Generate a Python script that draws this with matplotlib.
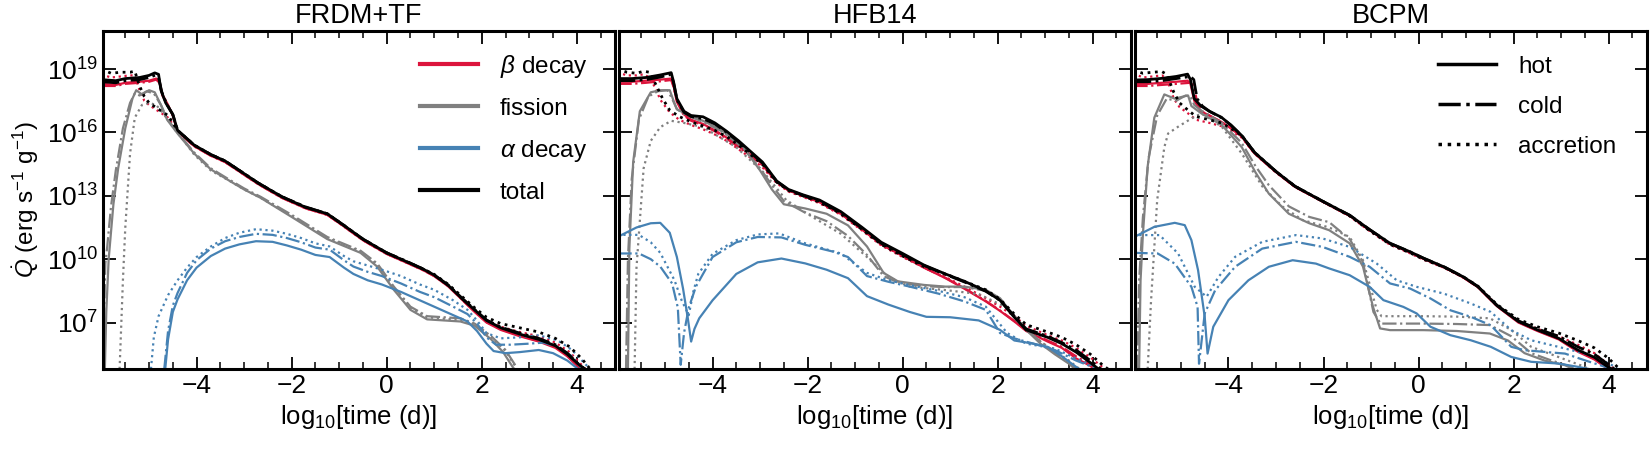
import numpy as np
import matplotlib
matplotlib.use("Agg")
import matplotlib.pyplot as plt
from matplotlib.ticker import MultipleLocator, NullLocator
from matplotlib.lines import Line2D

plt.rcParams['font.family'] = ['Liberation Sans', 'DejaVu Sans']
plt.rcParams['mathtext.fontset'] = 'custom'
plt.rcParams['mathtext.rm'] = 'Liberation Sans'
plt.rcParams['mathtext.it'] = 'Liberation Sans:italic'
plt.rcParams['mathtext.bf'] = 'Liberation Sans:bold'

# curves: (log10 time [d], log10 Qdot [erg/s/g])

# ---- FRDM+TF ----
frdm_beta_hot = [(-6.0,18.3),(-5.7,18.25),(-5.5,18.35),(-5.2,18.4),(-5.0,18.45),(-4.85,18.55),(-4.78,18.4),(-4.72,17.8),(-4.6,17.3),(-4.5,16.8),(-4.4,16.05),(-4.05,15.35),(-3.7,14.9),(-3.4,14.6),(-3.0,14.0),(-2.7,13.55),(-2.2,12.9),(-1.7,12.4),(-1.25,12.1),(-0.9,11.55),(-0.5,10.9),(0.0,10.25),(0.4,9.85),(0.75,9.5),(1.0,9.2),(1.3,8.7),(1.6,8.05),(1.85,7.5),(2.1,7.0),(2.4,6.65),(2.8,6.35),(3.2,6.1),(3.55,5.8),(3.8,5.4),(4.05,4.85),(4.15,4.75)]
frdm_beta_cold = [(-6.0,18.2),(-5.7,18.2),(-5.5,18.3),(-5.2,18.35),(-5.0,18.4),(-4.85,18.5),(-4.78,18.35),(-4.72,17.75),(-4.6,17.25),(-4.5,16.8),(-4.4,16.05),(-4.05,15.35),(-3.7,14.9),(-3.4,14.6),(-3.0,14.0),(-2.7,13.55),(-2.2,12.9),(-1.7,12.42),(-1.25,12.1),(-0.9,11.55),(-0.5,10.9),(0.0,10.25),(0.4,9.87),(0.75,9.5),(1.0,9.2),(1.3,8.72),(1.6,8.05),(1.85,7.52),(2.1,7.02),(2.4,6.68),(2.8,6.38),(3.2,6.12),(3.55,5.85),(3.8,5.45),(4.05,4.9),(4.15,4.75)]
frdm_beta_acc = [(-6.0,18.75),(-5.8,18.6),(-5.6,18.65),(-5.4,18.7),(-5.3,18.7),(-5.2,18.0),(-5.1,17.5),(-5.0,17.3),(-4.8,17.0),(-4.6,16.7),(-4.4,16.05),(-4.05,15.35),(-3.7,14.9),(-3.4,14.6),(-3.0,14.0),(-2.7,13.55),(-2.2,12.9),(-1.7,12.4),(-1.25,12.1),(-0.9,11.55),(-0.5,10.9),(0.0,10.25),(0.4,9.85),(0.75,9.5),(1.0,9.22),(1.3,8.75),(1.6,8.12),(1.85,7.6),(2.1,7.1),(2.4,6.8),(2.8,6.55),(3.2,6.35),(3.55,6.05),(3.85,5.6),(4.1,5.0),(4.2,4.75)]
frdm_fis_hot = [(-5.93,4.8),(-5.9,7.5),(-5.85,10.0),(-5.75,12.6),(-5.65,14.3),(-5.5,16.2),(-5.35,17.6),(-5.27,18.0),(-5.15,17.8),(-5.0,18.0),(-4.88,17.9),(-4.75,17.3),(-4.62,16.6),(-4.4,15.95),(-4.05,15.0),(-3.7,14.25),(-3.3,13.7),(-3.0,13.3),(-2.65,12.9),(-2.0,12.0),(-1.25,10.95),(-0.55,10.3),(-0.2,9.65),(0.15,8.55),(0.5,7.6),(0.85,7.15),(1.2,7.1),(1.55,7.05),(1.85,6.85),(2.2,6.2),(2.45,5.6),(2.65,4.9),(2.7,4.75)]
frdm_fis_cold = [(-5.97,4.8),(-5.95,7.0),(-5.92,9.8),(-5.88,10.6),(-5.8,12.5),(-5.7,14.2),(-5.55,16.2),(-5.4,17.4),(-5.3,17.85),(-5.2,17.75),(-5.05,17.95),(-4.9,17.85),(-4.75,17.3),(-4.62,16.65),(-4.4,16.0),(-4.05,15.05),(-3.7,14.3),(-3.3,13.75),(-3.0,13.35),(-2.65,12.95),(-2.0,12.1),(-1.25,11.05),(-0.55,10.4),(-0.2,9.8),(0.15,8.7),(0.5,7.75),(0.85,7.3),(1.2,7.25),(1.55,7.2),(1.85,6.95),(2.2,6.35),(2.5,5.7),(2.7,5.0),(2.75,4.75)]
frdm_fis_acc = [(-5.62,4.8),(-5.55,9.0),(-5.5,11.5),(-5.4,15.0),(-5.3,16.7),(-5.15,17.3),(-5.0,17.4),(-4.85,17.3),(-4.7,16.9),(-4.5,16.25),(-4.3,15.7),(-4.05,14.95),(-3.7,14.2),(-3.3,13.7),(-3.0,13.3),(-2.65,12.9),(-2.0,12.05),(-1.25,11.0),(-0.55,10.35),(-0.2,9.72),(0.15,8.65),(0.5,7.7),(0.85,7.25),(1.2,7.18),(1.55,7.12),(1.85,6.9),(2.2,6.3),(2.5,5.65),(2.7,4.95),(2.75,4.75)]
frdm_alpha_hot = [(-4.66,4.8),(-4.6,6.2),(-4.5,7.5),(-4.4,8.1),(-4.2,9.0),(-4.0,9.6),(-3.7,10.15),(-3.4,10.5),(-3.1,10.7),(-2.75,10.85),(-2.4,10.82),(-2.1,10.65),(-1.8,10.45),(-1.5,10.2),(-1.2,10.1),(-0.9,9.6),(-0.7,9.3),(-0.4,9.0),(-0.1,8.8),(0.3,8.45),(0.7,8.05),(1.0,7.75),(1.4,7.35),(1.7,7.05),(1.9,6.6),(2.1,6.0),(2.25,5.65),(2.5,5.55),(2.8,5.6),(3.2,5.7),(3.5,5.55),(3.8,5.2),(4.0,4.85),(4.05,4.75)]
frdm_alpha_cold = [(-4.68,4.8),(-4.6,6.6),(-4.5,7.8),(-4.4,8.4),(-4.2,9.35),(-4.0,9.95),(-3.7,10.5),(-3.4,10.85),(-3.1,11.05),(-2.75,11.2),(-2.4,11.15),(-2.1,11.0),(-1.8,10.8),(-1.5,10.55),(-1.2,10.45),(-0.9,9.95),(-0.7,9.65),(-0.4,9.4),(-0.1,9.2),(0.3,8.85),(0.7,8.45),(1.0,8.2),(1.4,7.75),(1.7,7.4),(1.9,6.95),(2.1,6.3),(2.3,5.95),(2.6,5.95),(3.0,6.0),(3.3,6.05),(3.6,5.85),(3.9,5.4),(4.1,4.85),(4.15,4.75)]
frdm_alpha_acc = [(-4.96,4.8),(-4.9,6.3),(-4.8,7.3),(-4.6,8.3),(-4.4,9.0),(-4.2,9.6),(-4.0,10.1),(-3.7,10.6),(-3.4,11.0),(-3.1,11.25),(-2.75,11.42),(-2.4,11.35),(-2.1,11.2),(-1.8,11.0),(-1.5,10.75),(-1.2,10.6),(-0.9,10.15),(-0.7,9.9),(-0.4,9.7),(-0.1,9.5),(0.3,9.2),(0.7,8.8),(1.0,8.55),(1.4,8.05),(1.7,7.6),(1.9,7.1),(2.1,6.5),(2.4,6.25),(2.8,6.3),(3.2,6.4),(3.6,6.15),(3.9,5.7),(4.15,5.1),(4.3,4.75)]
frdm_tot_hot = [(-6.0,18.5),(-5.7,18.45),(-5.5,18.55),(-5.2,18.6),(-5.0,18.7),(-4.88,18.82),(-4.8,18.75),(-4.75,18.0),(-4.65,17.4),(-4.5,16.85),(-4.4,16.1),(-4.05,15.4),(-3.7,14.95),(-3.4,14.65),(-3.0,14.05),(-2.7,13.6),(-2.2,12.95),(-1.7,12.45),(-1.25,12.15),(-0.9,11.6),(-0.5,10.95),(0.0,10.3),(0.4,9.9),(0.75,9.55),(1.0,9.25),(1.3,8.75),(1.6,8.1),(1.85,7.6),(2.1,7.1),(2.4,6.75),(2.8,6.45),(3.2,6.2),(3.55,5.9),(3.8,5.5),(4.05,5.0),(4.2,4.75)]
frdm_tot_cold = [(-6.0,18.4),(-5.7,18.35),(-5.5,18.45),(-5.2,18.5),(-5.0,18.6),(-4.86,18.72),(-4.8,18.6),(-4.73,17.9),(-4.63,17.35),(-4.5,16.85),(-4.4,16.1),(-4.05,15.4),(-3.7,14.95),(-3.4,14.65),(-3.0,14.05),(-2.7,13.6),(-2.2,12.95),(-1.7,12.47),(-1.25,12.15),(-0.9,11.6),(-0.5,10.95),(0.0,10.3),(0.4,9.92),(0.75,9.55),(1.0,9.25),(1.3,8.77),(1.6,8.12),(1.85,7.62),(2.1,7.12),(2.4,6.78),(2.8,6.5),(3.2,6.25),(3.55,5.95),(3.8,5.55),(4.05,5.0),(4.2,4.75)]
frdm_tot_acc = [(-6.0,19.0),(-5.8,18.8),(-5.6,18.85),(-5.4,18.85),(-5.3,18.9),(-5.2,18.2),(-5.1,17.7),(-5.0,17.4),(-4.8,17.1),(-4.6,16.8),(-4.4,16.1),(-4.05,15.4),(-3.7,14.95),(-3.4,14.65),(-3.0,14.05),(-2.7,13.6),(-2.2,12.95),(-1.7,12.45),(-1.25,12.15),(-0.9,11.6),(-0.5,10.95),(0.0,10.3),(0.4,9.9),(0.75,9.55),(1.0,9.28),(1.3,8.8),(1.6,8.2),(1.85,7.7),(2.1,7.25),(2.4,6.95),(2.8,6.75),(3.2,6.55),(3.55,6.25),(3.85,5.85),(4.1,5.3),(4.3,4.75)]

# ---- HFB14 ----
hfb_beta_hot = [(-6.0,18.4),(-5.7,18.4),(-5.4,18.45),(-5.1,18.5),(-4.87,18.55),(-4.82,18.2),(-4.75,17.5),(-4.6,16.85),(-4.45,16.6),(-4.2,16.4),(-3.95,16.1),(-3.7,15.75),(-3.45,15.35),(-3.2,14.95),(-2.95,14.5),(-2.65,13.65),(-2.4,13.25),(-2.1,13.0),(-1.75,12.7),(-1.3,12.15),(-0.85,11.4),(-0.45,10.7),(0.0,10.15),(0.45,9.6),(0.9,9.1),(1.3,8.6),(1.75,8.0),(2.05,7.55),(2.35,7.05),(2.6,6.6),(3.05,6.1),(3.35,5.8),(3.65,5.3),(3.95,4.95),(4.05,4.75)]
hfb_beta_cold = [(-6.0,18.3),(-5.7,18.3),(-5.4,18.35),(-5.1,18.42),(-4.87,18.48),(-4.82,18.15),(-4.75,17.45),(-4.6,16.8),(-4.45,16.55),(-4.2,16.35),(-3.95,16.05),(-3.7,15.7),(-3.45,15.3),(-3.2,14.9),(-2.95,14.45),(-2.65,13.65),(-2.4,13.25),(-2.1,13.0),(-1.75,12.7),(-1.3,12.15),(-0.85,11.4),(-0.45,10.7),(0.0,10.15),(0.45,9.6),(0.9,9.12),(1.3,8.62),(1.75,8.02),(2.05,7.57),(2.35,7.07),(2.6,6.62),(3.05,6.15),(3.35,5.85),(3.65,5.4),(3.95,5.0),(4.1,4.75)]
hfb_beta_acc = [(-6.0,18.85),(-5.8,18.7),(-5.6,18.7),(-5.45,18.75),(-5.33,18.6),(-5.2,18.1),(-5.1,17.55),(-4.9,16.95),(-4.7,16.6),(-4.45,16.35),(-4.2,16.15),(-3.95,15.9),(-3.7,15.6),(-3.45,15.2),(-3.2,14.8),(-2.95,14.35),(-2.65,13.6),(-2.4,13.2),(-2.1,12.95),(-1.75,12.65),(-1.3,12.1),(-0.85,11.35),(-0.45,10.65),(0.0,10.1),(0.45,9.6),(0.9,9.15),(1.3,8.7),(1.75,8.15),(2.05,7.75),(2.35,7.3),(2.6,6.85),(3.05,6.4),(3.35,6.15),(3.65,5.8),(3.95,5.35),(4.2,4.9),(4.3,4.75)]
hfb_fis_hot = [(-5.78,4.8),(-5.75,10.5),(-5.67,14.6),(-5.53,17.0),(-5.3,17.9),(-5.1,18.0),(-4.9,18.0),(-4.82,17.5),(-4.75,17.1),(-4.58,16.9),(-4.2,16.55),(-3.8,16.1),(-3.35,15.3),(-3.0,14.2),(-2.75,13.3),(-2.5,12.6),(-2.05,12.4),(-1.6,12.15),(-1.15,11.6),(-0.75,10.6),(-0.4,9.35),(-0.1,8.95),(0.45,8.78),(0.9,8.7),(1.3,8.7),(1.75,8.55),(2.05,8.15),(2.35,7.3),(2.6,6.65),(2.9,6.0),(3.2,5.5),(3.5,5.05),(3.65,4.75)]
hfb_fis_cold = [(-5.82,4.8),(-5.78,10.0),(-5.7,13.8),(-5.55,16.6),(-5.35,17.7),(-5.15,17.95),(-4.95,18.0),(-4.85,17.6),(-4.75,17.1),(-4.58,16.85),(-4.2,16.5),(-3.8,16.05),(-3.35,15.25),(-3.0,14.3),(-2.75,13.5),(-2.5,12.75),(-2.05,12.2),(-1.6,11.8),(-1.15,11.1),(-0.75,10.2),(-0.4,9.2),(-0.1,8.9),(0.45,8.72),(0.9,8.68),(1.3,8.68),(1.75,8.5),(2.05,8.1),(2.35,7.3),(2.6,6.7),(2.9,6.1),(3.2,5.6),(3.5,5.1),(3.7,4.75)]
hfb_fis_acc = [(-5.64,4.8),(-5.6,9.6),(-5.45,14.3),(-5.3,15.6),(-5.1,16.25),(-4.87,16.55),(-4.6,16.45),(-4.2,16.25),(-3.5,15.3),(-2.9,14.05),(-2.45,12.8),(-1.9,12.0),(-1.3,11.2),(-0.75,10.1),(-0.3,9.15),(0.15,8.7),(0.85,8.55),(1.6,8.35),(2.2,7.7),(2.6,6.65),(3.05,5.85),(3.5,5.2),(3.75,4.75)]
hfb_alpha_hot = [(-6.0,11.05),(-5.6,11.5),(-5.3,11.7),(-5.1,11.72),(-4.9,11.25),(-4.75,10.1),(-4.62,8.6),(-4.52,7.2),(-4.45,6.1),(-4.38,6.7),(-4.28,7.2),(-4.0,8.05),(-3.5,9.3),(-3.05,9.85),(-2.55,10.03),(-2.05,9.8),(-1.6,9.5),(-1.15,9.1),(-0.75,8.25),(-0.3,7.85),(0.15,7.5),(0.5,7.27),(1.0,7.25),(1.6,7.1),(2.05,6.65),(2.35,6.15),(2.75,6.0),(3.05,5.85),(3.35,5.4),(3.65,4.9),(3.75,4.75)]
hfb_alpha_cold = [(-6.0,10.27),(-5.55,10.27),(-5.3,10.0),(-5.1,9.65),(-4.85,8.85),(-4.73,7.7),(-4.67,5.0),(-4.6,6.5),(-4.5,7.7),(-4.35,8.7),(-4.0,10.1),(-3.5,10.8),(-3.05,11.05),(-2.55,11.03),(-2.05,10.68),(-1.45,10.35),(-1.15,10.1),(-0.75,9.2),(-0.3,8.93),(0.15,8.7),(0.75,8.37),(1.3,8.0),(1.75,7.6),(2.05,6.5),(2.35,6.25),(2.75,6.0),(3.2,5.7),(3.65,5.2),(4.05,4.85),(4.1,4.75)]
hfb_alpha_acc = [(-6.0,11.15),(-5.55,11.15),(-5.3,10.8),(-5.1,10.3),(-4.8,9.0),(-4.65,8.05),(-4.5,7.35),(-4.4,8.5),(-4.3,9.3),(-4.0,10.25),(-3.5,10.9),(-3.05,11.17),(-2.6,11.22),(-2.05,10.75),(-1.3,10.27),(-0.75,9.35),(-0.3,9.0),(0.15,8.77),(0.75,8.5),(1.3,8.2),(1.75,7.75),(2.2,6.5),(2.6,6.0),(3.2,5.77),(3.65,5.3),(4.05,4.9),(4.15,4.75)]
hfb_tot_hot = [(-6.0,18.55),(-5.7,18.55),(-5.4,18.6),(-5.1,18.72),(-4.87,18.83),(-4.82,18.4),(-4.75,17.6),(-4.6,17.0),(-4.45,16.8),(-4.2,16.74),(-3.95,16.45),(-3.7,16.05),(-3.45,15.6),(-3.2,15.1),(-2.95,14.6),(-2.65,13.7),(-2.4,13.3),(-2.1,13.05),(-1.75,12.8),(-1.3,12.25),(-0.85,11.5),(-0.45,10.8),(0.0,10.27),(0.45,9.72),(0.9,9.3),(1.3,8.95),(1.75,8.5),(2.05,8.05),(2.35,7.25),(2.6,6.65),(3.05,6.3),(3.35,6.0),(3.65,5.6),(3.95,5.1),(4.15,4.75)]
hfb_tot_cold = [(-6.0,18.45),(-5.7,18.45),(-5.4,18.5),(-5.1,18.62),(-4.87,18.75),(-4.82,18.35),(-4.75,17.55),(-4.6,16.95),(-4.45,16.75),(-4.2,16.65),(-3.95,16.4),(-3.7,16.0),(-3.45,15.55),(-3.2,15.05),(-2.95,14.55),(-2.65,13.68),(-2.4,13.28),(-2.1,13.02),(-1.75,12.75),(-1.3,12.2),(-0.85,11.45),(-0.45,10.75),(0.0,10.22),(0.45,9.7),(0.9,9.28),(1.3,8.92),(1.75,8.48),(2.05,8.05),(2.35,7.3),(2.6,6.7),(3.05,6.35),(3.35,6.05),(3.65,5.7),(3.95,5.2),(4.2,4.75)]
hfb_tot_acc = [(-6.0,19.0),(-5.8,18.85),(-5.6,18.8),(-5.45,18.9),(-5.33,18.85),(-5.2,18.3),(-5.05,17.6),(-4.9,17.05),(-4.7,16.75),(-4.45,16.5),(-4.2,16.3),(-3.95,16.1),(-3.7,15.8),(-3.45,15.4),(-3.2,14.95),(-2.95,14.5),(-2.65,13.65),(-2.4,13.25),(-2.1,13.0),(-1.75,12.7),(-1.3,12.15),(-0.85,11.4),(-0.45,10.7),(0.0,10.15),(0.45,9.65),(0.9,9.3),(1.3,8.95),(1.75,8.55),(2.05,8.1),(2.35,7.4),(2.6,6.9),(3.05,6.55),(3.35,6.3),(3.65,5.95),(3.95,5.5),(4.2,5.0),(4.35,4.75)]

# ---- BCPM ----
bcpm_beta_hot = [(-6.0,18.3),(-5.7,18.3),(-5.4,18.35),(-5.1,18.4),(-4.86,18.45),(-4.8,18.3),(-4.72,17.5),(-4.58,17.0),(-4.4,16.8),(-4.15,16.5),(-3.95,16.2),(-3.72,15.8),(-3.45,15.0),(-3.0,14.12),(-2.6,13.42),(-2.0,12.7),(-1.45,12.05),(-1.03,11.37),(-0.6,10.72),(-0.18,10.32),(0.1,10.02),(0.55,9.6),(0.95,9.12),(1.25,8.67),(1.65,7.77),(2.1,7.0),(2.5,6.6),(2.95,6.2),(3.35,5.62),(3.7,5.25),(3.95,4.85),(4.0,4.75)]
bcpm_beta_cold = [(-6.0,18.2),(-5.7,18.2),(-5.4,18.25),(-5.1,18.3),(-4.8,18.35),(-4.73,18.2),(-4.66,17.45),(-4.55,17.0),(-4.4,16.8),(-4.15,16.5),(-3.95,16.2),(-3.72,15.8),(-3.45,15.0),(-3.0,14.12),(-2.6,13.42),(-2.0,12.7),(-1.45,12.05),(-1.03,11.37),(-0.6,10.72),(-0.18,10.32),(0.1,10.02),(0.55,9.6),(0.95,9.12),(1.25,8.67),(1.65,7.78),(2.1,7.02),(2.5,6.62),(2.95,6.22),(3.35,5.65),(3.7,5.28),(3.95,4.88),(4.02,4.75)]
bcpm_beta_acc = [(-6.0,18.8),(-5.8,18.6),(-5.6,18.65),(-5.4,18.7),(-5.3,18.55),(-5.15,17.6),(-5.03,17.2),(-4.85,16.9),(-4.68,16.6),(-4.4,16.45),(-4.15,16.3),(-3.95,16.1),(-3.72,15.75),(-3.45,15.0),(-3.0,14.1),(-2.6,13.42),(-2.0,12.7),(-1.45,12.03),(-1.03,11.33),(-0.6,10.68),(-0.18,10.28),(0.1,9.98),(0.55,9.58),(0.95,9.12),(1.25,8.7),(1.65,7.82),(2.1,7.05),(2.5,6.7),(2.95,6.35),(3.35,5.95),(3.7,5.55),(4.0,5.0),(4.15,4.75)]
bcpm_fis_hot = [(-5.88,4.8),(-5.85,9.0),(-5.8,11.2),(-5.7,14.4),(-5.56,16.7),(-5.35,17.8),(-5.13,17.6),(-4.95,17.7),(-4.85,17.75),(-4.78,17.25),(-4.57,16.9),(-4.14,16.35),(-3.72,15.3),(-3.43,14.1),(-3.15,13.1),(-2.73,12.15),(-2.3,11.7),(-1.88,11.37),(-1.45,10.75),(-1.17,9.65),(-0.96,7.75),(-0.81,6.72),(-0.6,6.64),(0.1,6.64),(0.8,6.6),(1.5,6.48),(1.88,6.15),(2.23,5.55),(2.65,5.2),(3.08,4.98),(3.3,4.75)]
bcpm_fis_cold = [(-5.92,4.8),(-5.88,9.0),(-5.8,12.0),(-5.68,14.8),(-5.5,16.8),(-5.3,17.6),(-5.1,17.5),(-4.9,17.75),(-4.8,17.7),(-4.72,17.3),(-4.55,17.0),(-4.14,16.45),(-3.72,15.5),(-3.43,14.4),(-3.15,13.5),(-2.73,12.5),(-2.3,12.0),(-1.88,11.75),(-1.45,10.95),(-1.17,9.85),(-0.95,7.5),(-0.8,6.95),(0.1,6.95),(0.8,6.93),(1.5,6.88),(1.95,6.35),(2.37,5.55),(2.8,5.2),(3.36,4.8),(3.4,4.75)]
bcpm_fis_acc = [(-5.7,4.8),(-5.63,8.0),(-5.5,12.8),(-5.35,15.3),(-5.27,15.95),(-5.06,16.27),(-4.78,16.66),(-4.57,16.9),(-4.14,16.27),(-3.72,15.0),(-3.29,13.45),(-2.87,12.5),(-2.44,11.85),(-1.88,11.5),(-1.45,11.05),(-1.17,9.95),(-0.88,7.6),(-0.78,7.3),(0.1,7.3),(0.8,7.28),(1.5,7.2),(1.95,6.65),(2.37,5.85),(2.94,5.37),(3.5,4.9),(3.6,4.75)]
bcpm_alpha_hot = [(-6.0,11.03),(-5.56,11.53),(-5.13,11.72),(-4.92,11.61),(-4.78,10.9),(-4.64,9.48),(-4.5,7.27),(-4.44,5.53),(-4.32,6.8),(-4.0,8.06),(-3.58,9.0),(-3.15,9.64),(-2.65,9.95),(-2.16,9.79),(-1.88,9.56),(-1.45,9.24),(-1.03,8.69),(-0.74,8.06),(-0.32,7.74),(-0.04,7.43),(0.25,6.8),(0.67,6.4),(1.1,6.16),(1.52,5.85),(1.95,5.37),(2.37,5.14),(2.94,5.06),(3.36,4.9),(3.65,4.77)]
bcpm_alpha_cold = [(-6.0,10.3),(-5.49,10.27),(-5.13,9.79),(-4.78,8.69),(-4.65,7.74),(-4.62,5.05),(-4.5,7.43),(-4.28,8.53),(-3.86,9.64),(-3.29,10.5),(-2.58,10.82),(-2.02,10.58),(-1.45,10.11),(-1.03,9.64),(-0.6,8.85),(-0.18,8.61),(0.25,8.14),(0.67,7.58),(1.1,7.27),(1.52,6.87),(1.95,5.85),(2.23,5.69),(2.65,5.61),(3.08,5.53),(3.5,5.21),(3.93,4.9),(4.02,4.75)]
bcpm_alpha_acc = [(-6.0,11.14),(-5.45,11.14),(-5.06,10.27),(-4.71,8.69),(-4.46,8.22),(-4.21,9.16),(-3.86,10.11),(-3.29,10.82),(-2.58,11.14),(-2.02,10.98),(-1.45,10.58),(-0.88,9.79),(-0.46,9.0),(-0.04,8.69),(0.53,8.37),(1.1,7.9),(1.52,7.5),(1.95,6.64),(2.37,6.16),(2.94,5.85),(3.5,5.53),(3.93,5.14),(4.14,4.9),(4.2,4.75)]
bcpm_tot_hot = [(-6.0,18.48),(-5.7,18.5),(-5.4,18.56),(-5.1,18.65),(-4.86,18.76),(-4.8,18.5),(-4.72,17.6),(-4.58,17.25),(-4.4,17.0),(-4.15,16.72),(-3.95,16.35),(-3.72,15.85),(-3.45,15.05),(-3.0,14.15),(-2.6,13.45),(-2.0,12.72),(-1.45,12.08),(-1.03,11.4),(-0.6,10.75),(-0.18,10.35),(0.1,10.05),(0.55,9.62),(0.95,9.15),(1.25,8.7),(1.65,7.8),(2.1,7.05),(2.5,6.65),(2.95,6.25),(3.35,5.7),(3.7,5.35),(3.95,4.95),(4.1,4.75)]
bcpm_tot_cold = [(-6.0,18.4),(-5.7,18.4),(-5.4,18.45),(-5.1,18.55),(-4.8,18.65),(-4.73,18.5),(-4.66,17.6),(-4.55,17.25),(-4.4,17.0),(-4.15,16.7),(-3.95,16.35),(-3.72,15.85),(-3.45,15.05),(-3.0,14.15),(-2.6,13.45),(-2.0,12.72),(-1.45,12.08),(-1.03,11.4),(-0.6,10.75),(-0.18,10.35),(0.1,10.05),(0.55,9.62),(0.95,9.15),(1.25,8.7),(1.65,7.82),(2.1,7.08),(2.5,6.7),(2.95,6.35),(3.35,5.85),(3.7,5.5),(4.0,5.0),(4.15,4.75)]
bcpm_tot_acc = [(-6.0,18.95),(-5.8,18.8),(-5.6,18.85),(-5.4,18.88),(-5.3,18.75),(-5.15,17.9),(-5.03,17.4),(-4.85,17.05),(-4.68,16.75),(-4.4,16.6),(-4.15,16.45),(-3.95,16.2),(-3.72,15.85),(-3.45,15.05),(-3.0,14.15),(-2.6,13.45),(-2.0,12.72),(-1.45,12.05),(-1.03,11.35),(-0.6,10.7),(-0.18,10.3),(0.1,10.0),(0.55,9.6),(0.95,9.15),(1.25,8.72),(1.65,7.85),(2.1,7.15),(2.5,6.8),(2.95,6.5),(3.35,6.15),(3.7,5.8),(4.0,5.3),(4.25,4.75)]

titles = ['FRDM+TF', 'HFB14', 'BCPM']
comp_labels = [r'$\beta$ decay', 'fission', r'$\alpha$ decay', 'total']
comp_colors = ['crimson', 'gray', 'steelblue', 'black']
cond_labels = ['hot', 'cold', 'accretion']
cond_styles = ['-', '-.', ':']

panels = [
    [[frdm_beta_hot, frdm_beta_cold, frdm_beta_acc],
     [frdm_fis_hot, frdm_fis_cold, frdm_fis_acc],
     [frdm_alpha_hot, frdm_alpha_cold, frdm_alpha_acc],
     [frdm_tot_hot, frdm_tot_cold, frdm_tot_acc]],
    [[hfb_beta_hot, hfb_beta_cold, hfb_beta_acc],
     [hfb_fis_hot, hfb_fis_cold, hfb_fis_acc],
     [hfb_alpha_hot, hfb_alpha_cold, hfb_alpha_acc],
     [hfb_tot_hot, hfb_tot_cold, hfb_tot_acc]],
    [[bcpm_beta_hot, bcpm_beta_cold, bcpm_beta_acc],
     [bcpm_fis_hot, bcpm_fis_cold, bcpm_fis_acc],
     [bcpm_alpha_hot, bcpm_alpha_cold, bcpm_alpha_acc],
     [bcpm_tot_hot, bcpm_tot_cold, bcpm_tot_acc]],
]

fig, axes = plt.subplots(1, 3, figsize=(16.5, 4.5), dpi=100, sharey=True)
fig.subplots_adjust(left=0.0624, right=0.998, top=0.931, bottom=0.18, wspace=0.008)

for ax, title, curves in zip(axes, titles, panels):
    for comp, color in zip(curves, comp_colors):
        lw = 2.0 if color == 'black' else 1.6
        for curve, ls in zip(comp, cond_styles):
            arr = np.array(curve)
            ax.plot(arr[:, 0], 10 ** arr[:, 1], color=color, ls=ls, lw=lw)
    ax.set_yscale('log')
    ax.set_xlim(-5.97, 4.8)
    ax.set_ylim(10 ** 4.8, 10 ** 20.8)
    ax.set_yticks([1e7, 1e10, 1e13, 1e16, 1e19])
    ax.yaxis.set_minor_locator(NullLocator())
    ax.xaxis.set_major_locator(MultipleLocator(2))
    ax.xaxis.set_minor_locator(MultipleLocator(0.5))
    ax.tick_params(which='both', direction='in', top=True, right=True, labelsize=19)
    ax.tick_params(which='major', length=9, width=1.3)
    ax.tick_params(which='minor', length=5, width=1.1)
    for sp in ax.spines.values():
        sp.set_linewidth(2.2)
    ax.set_title(title, fontsize=19.5, pad=6)
    ax.set_xlabel(r'log$_{10}$[time (d)]', fontsize=18.5)

axes[0].set_ylabel(r'$\dot{Q}$ (erg s$^{-1}$ g$^{-1}$)', fontsize=17.5, labelpad=4)

comp_handles = [Line2D([], [], color=c, lw=3) for c in comp_colors]
axes[0].legend(comp_handles, comp_labels, loc='upper right', bbox_to_anchor=(0.966, 0.965),
               frameon=False, fontsize=17.5, handlelength=2.4, handletextpad=0.9,
               labelspacing=0.74, borderaxespad=0)

cond_handles = [Line2D([], [], color='black', lw=2.5, ls=s) for s in cond_styles]
axes[2].legend(cond_handles, cond_labels, loc='upper right', bbox_to_anchor=(0.96, 0.955),
               frameon=False, fontsize=17.5, handlelength=2.4, handletextpad=0.9,
               labelspacing=0.74, borderaxespad=0)

fig.savefig('out.png', dpi=100)
